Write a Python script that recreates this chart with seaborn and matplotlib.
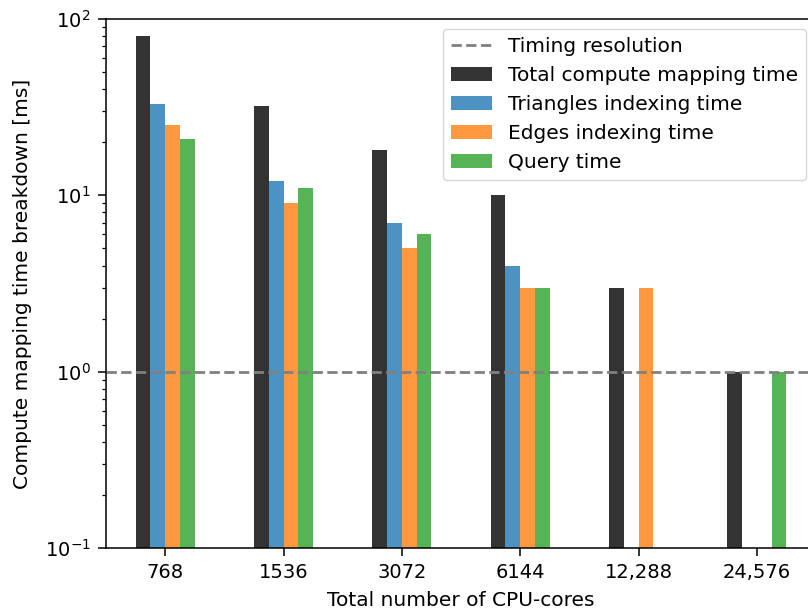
import numpy as np
import pandas as pd
import matplotlib
matplotlib.use("Agg")
import matplotlib.pyplot as plt
import matplotlib.patches as mpatches
from matplotlib.lines import Line2D
import seaborn as sns

cores = ["768", "1536", "3072", "6144", "12,288", "24,576"]
series = ["Total compute mapping time", "Triangles indexing time",
          "Edges indexing time", "Query time"]
total = [80, 32, 18, 10, 3, 1]
triangles = [33, 12, 7, 4, np.nan, np.nan]
edges = [25, 9, 5, 3, 3, np.nan]
query = [21, 11, 6, 3, np.nan, 1]
timing_resolution = 1.0
colors = ["black", "#1f77b4", "#ff7f0e", "#2ca02c"]

rows = []
for name, vals in zip(series, [total, triangles, edges, query]):
    for c, v in zip(cores, vals):
        rows.append({"cores": c, "series": name, "time": v})
df = pd.DataFrame(rows)

plt.rcParams["font.family"] = ["DejaVu Sans"]
plt.rcParams["font.size"] = 14

fig = plt.figure(figsize=(8.08, 6.11), dpi=100)
L, R, T, B = 106, 816, 19, 548
ax = fig.add_axes([L / 808, 1 - B / 611, (R - L) / 808, (B - T) / 611])

sns.barplot(data=df, x="cores", y="time", hue="series", order=cores,
            hue_order=series, palette=colors, saturation=1, alpha=0.8,
            width=0.5, ax=ax, legend=False)
ax.set_yscale("log")
ax.set_ylim(0.1, 100)
ax.set_xlim(-0.5, 5.5)
ax.axhline(timing_resolution, color="gray", ls="--", lw=2)

ax.set_xlabel("Total number of CPU-cores", fontsize=14.5, labelpad=6)
ax.set_ylabel("Compute mapping time breakdown [ms]", fontsize=14.5, labelpad=9)
ax.tick_params(which="major", labelsize=14, length=5.5, width=1.1, pad=5.5)
ax.tick_params(which="minor", length=3, width=0.9)
for s in ax.spines.values():
    s.set_linewidth(1.1)

handles = [Line2D([], [], color="gray", ls="--", lw=2, label="Timing resolution")]
for name, col in zip(series, colors):
    handles.append(mpatches.Patch(color=col, alpha=0.8, label=name, lw=0))
ax.legend(handles=handles, loc="upper right", fontsize=14.5, borderaxespad=0.5)

fig.savefig("out.png", dpi=100)
